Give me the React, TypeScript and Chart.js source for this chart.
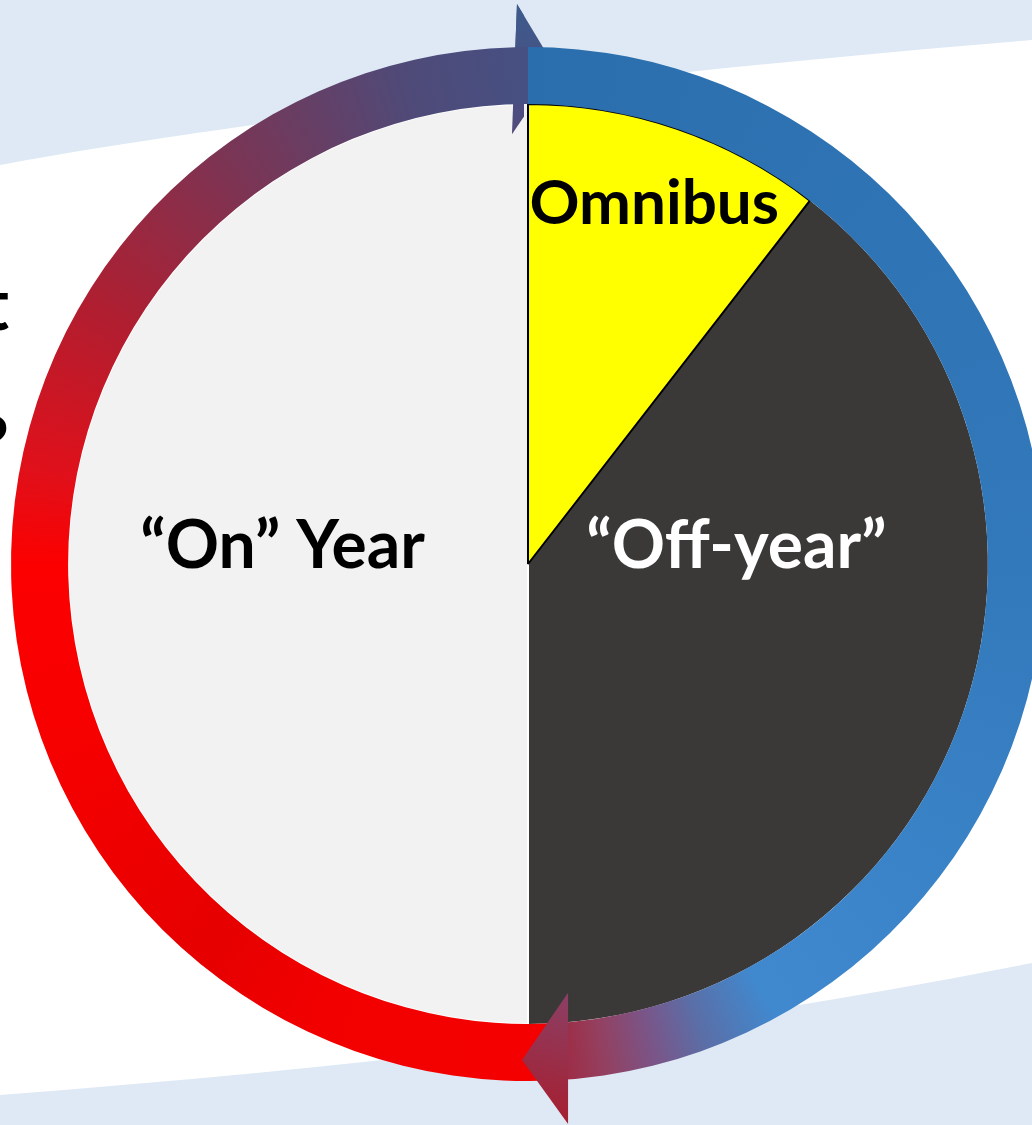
import React, { useEffect, useRef } from "react";
import { Chart, registerables } from "chart.js";

Chart.register(...registerables);

// ---- data ----
const categories = ["“Off-year”", "“On” Year", "Omnibus"];
const shares = [39.5, 50, 10.5];
const ringSegments = ["Off-year → On year", "On year → Off-year"];
const ringShares = [49.2, 50.8];
const sideText = ["t", "?"];

// ---- styles ----
const SLICE_COLORS = ["#3b3937", "#f2f2f2", "#ffff00"];
const SLICE_BORDER = ["#3b3937", "#ffffff", "#000000"];
const SLICE_BORDER_W = [0, 2, 2];
const LABEL_COLORS = ["#ffffff", "#000000", "#000000"];
const LABEL_FONT = ["bold 66px Lato", "bold 66px Lato", "bold 62px Lato"];
// label baseline anchor relative to pie centre, in units of pie radius
const LABEL_POS: number[][] = [
  [208 / 459, 4 / 459],
  [-245 / 459, 4 / 459],
  [126 / 459, -339 / 459],
];
const RING_STOPS: [number, string][] = [
  [0.0, "#2b6ead"],
  [0.25, "#3279bb"],
  [0.42, "#4089cf"],
  [0.443, "#5a6fa8"],
  [0.46, "#7a5588"],
  [0.476, "#944060"],
  [0.491, "#a0283f"],
  [0.492, "#f40000"],
  [0.57, "#f20000"],
  [0.61, "#e60000"],
  [0.7, "#f80000"],
  [0.75, "#fc0000"],
  [0.78, "#e0101a"],
  [0.835, "#b01e30"],
  [0.9, "#7a3555"],
  [0.96, "#4f4a78"],
  [1.0, "#465082"],
];
const TOP_ARROW = [[-11, -559], [28, -494], [-16, -429]];
const BOTTOM_ARROW = [[40, 428], [-6, 495], [40, 559]];
const REF_R = 516;
const BG = "#dee9f5";

const decor = {
  id: "ringDecor",
  afterDatasetDraw(chart: any, args: any) {
    const ctx = chart.ctx as CanvasRenderingContext2D;
    const ring = chart.getDatasetMeta(0).data[0];
    if (!ring) return;
    const p = ring.getProps(["x", "y", "outerRadius", "innerRadius"], true);
    const { x, y } = p;
    const k = p.outerRadius / REF_R;
    const path = (pts: number[][]) => {
      ctx.beginPath();
      pts.forEach(([dx, dy], i) => {
        if (i === 0) ctx.moveTo(x + dx * k, y + dy * k);
        else ctx.lineTo(x + dx * k, y + dy * k);
      });
      ctx.closePath();
    };
    if (args.index === 1) {
      // top arrowhead: over the "On" slice, under the ring and Omnibus
      const g = ctx.createLinearGradient(x, y - 559 * k, x, y - 429 * k);
      g.addColorStop(0, "#3d5b8d");
      g.addColorStop(1, "#514a7c");
      const draw = () => {
        path(TOP_ARROW);
        ctx.fillStyle = g;
        ctx.fill();
      };
      ctx.save();
      ctx.beginPath();
      ctx.rect(0, 0, x - 4, chart.height);
      ctx.clip();
      draw();
      ctx.restore();
      ctx.save();
      ctx.beginPath();
      ctx.rect(0, 0, chart.width, y - p.innerRadius);
      ctx.clip();
      draw();
      ctx.restore();
    }
    if (args.index === 0) {
      const g = ctx.createLinearGradient(x + 40 * k, y + 428 * k, x, y + 559 * k);
      g.addColorStop(0, "#8b4066");
      g.addColorStop(1, "#a81c2c");
      ctx.save();
      path(BOTTOM_ARROW);
      ctx.fillStyle = g;
      ctx.fill();
      ctx.restore();

      const pie = chart.getDatasetMeta(1).data;
      pie.forEach((arc: any, i: number) => {
        const a = arc.getProps(["x", "y", "outerRadius"], true);
        ctx.save();
        ctx.font = LABEL_FONT[i];
        ctx.fillStyle = LABEL_COLORS[i];
        ctx.textAlign = "center";
        ctx.textBaseline = "alphabetic";
        ctx.fillText(
          categories[i],
          a.x + LABEL_POS[i][0] * a.outerRadius,
          a.y + LABEL_POS[i][1] * a.outerRadius
        );
        ctx.restore();
      });
    }
  },
};

export default function App() {
  const ref = useRef<HTMLCanvasElement | null>(null);

  useEffect(() => {
    if (!ref.current) return;
    const total = shares.reduce((s, v) => s + v, 0);
    const rotation = (shares[2] / total) * 360;
    const chart = new Chart(ref.current, {
      type: "pie",
      data: {
        labels: categories,
        datasets: [
          {
            label: "cycle",
            data: ringShares,
            weight: 57,
            rotation: 0,
            borderWidth: 0,
            offset: 0,
            hoverOffset: 0,
            backgroundColor: (c: any) => {
              const ch = c.chart;
              const ca = ch.chartArea;
              if (!ca) return "#888";
              const cx = (ca.left + ca.right) / 2;
              const cy = (ca.top + ca.bottom) / 2;
              const g = ch.ctx.createConicGradient(-Math.PI / 2, cx, cy);
              RING_STOPS.forEach(([o, col]) => g.addColorStop(o, col));
              return g;
            },
          } as any,
          {
            label: "year",
            data: shares,
            weight: 459,
            rotation,
            backgroundColor: SLICE_COLORS,
            borderColor: SLICE_BORDER,
            borderWidth: SLICE_BORDER_W,
            offset: 0,
            hoverOffset: 0,
          } as any,
        ],
      },
      options: {
        animation: false,
        responsive: false,
        maintainAspectRatio: false,
        events: [],
        layout: { padding: 50 },
        plugins: {
          legend: { display: false },
          tooltip: { enabled: false },
        },
      },
      plugins: [decor],
    });
    return () => chart.destroy();
  }, []);

  return (
    <div
      style={{
        position: "fixed",
        left: 0,
        top: 0,
        width: 1032,
        height: 1125,
        overflow: "hidden",
        background: "#ffffff",
      }}
    >
      <svg width={1032} height={1125} style={{ position: "absolute", left: 0, top: 0 }}>
        <path d="M0,0 L0,165 C200,128 600,75 1032,40 L1032,0 Z" fill={BG} />
        <path d="M0,1095 C350,1068 700,1030 1032,963 L1032,1125 L0,1125 Z" fill={BG} />
      </svg>
      {sideText.map((t, i) => (
        <div
          key={i}
          style={{
            position: "absolute",
            right: 1032 - 9,
            top: i === 0 ? 266 : 405,
            font: "bold 72px Lato",
            lineHeight: "72px",
            color: "#000",
            whiteSpace: "nowrap",
          }}
        >
          {t}
        </div>
      ))}
      <canvas
        ref={ref}
        width={1134}
        height={1134}
        style={{ position: "absolute", left: -39, top: -3, width: 1134, height: 1134 }}
      />
    </div>
  );
}
